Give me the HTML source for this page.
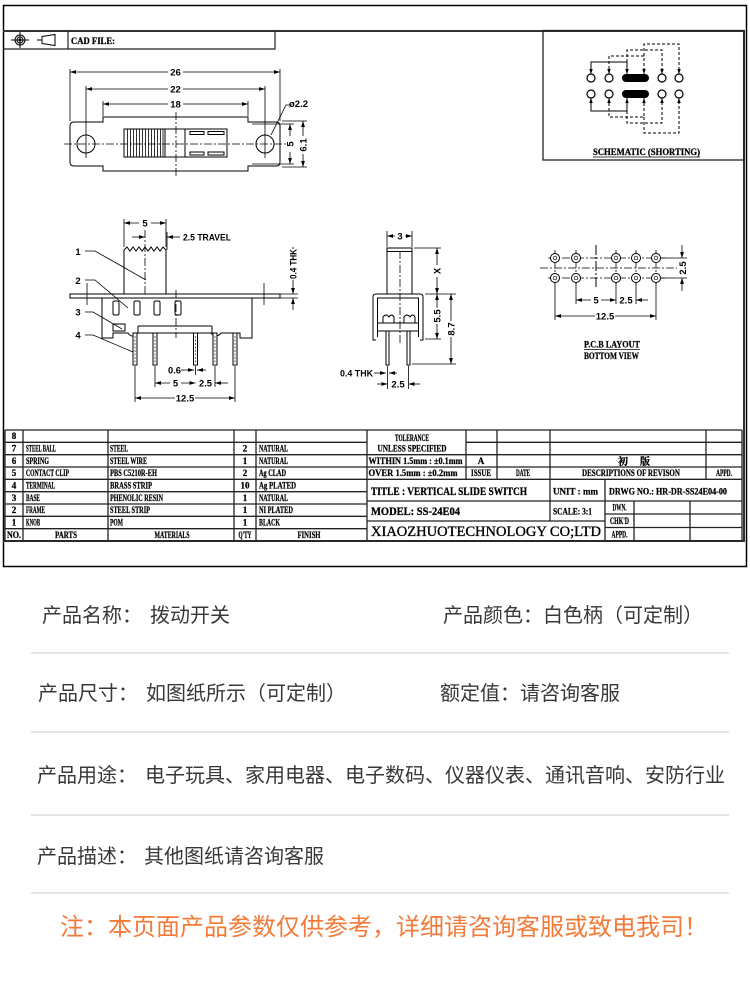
<!DOCTYPE html>
<html><head><meta charset="utf-8">
<style>
html,body{margin:0;padding:0;background:#fff;}
body{width:750px;height:988px;position:relative;overflow:hidden;font-family:"Liberation Sans","Noto Sans CJK SC",sans-serif;}
svg{position:absolute;left:0;top:0;}
.t{position:absolute;font-size:20px;line-height:20px;color:#383838;white-space:nowrap;font-family:"Liberation Sans","Noto Sans CJK SC",sans-serif;}
.hr{position:absolute;left:31px;width:698px;height:2px;background:#e6e6e6;}
.note{position:absolute;left:60px;top:916px;font-size:24px;line-height:24px;color:#f37b3a;white-space:nowrap;font-family:"Liberation Sans","Noto Sans CJK SC",sans-serif;}
</style></head><body>
<svg width="750" height="575" viewBox="0 0 750 575">
<defs>
<marker id="a" viewBox="0 0 10 10" refX="10" refY="5" markerWidth="6" markerHeight="6" markerUnits="userSpaceOnUse" orient="auto-start-reverse"><path d="M0,1.8 L10,5 L0,8.2z" fill="#000"/></marker>
<marker id="b" viewBox="0 0 10 10" refX="10" refY="5" markerWidth="5" markerHeight="5" markerUnits="userSpaceOnUse" orient="auto-start-reverse"><path d="M0,1.5 L10,5 L0,8.5z" fill="#000"/></marker>
</defs>
<style>
.l{fill:none;stroke:#000;stroke-width:1}
.d{fill:none;stroke:#000;stroke-width:0.8}
.cl{fill:none;stroke:#000;stroke-width:0.8;stroke-dasharray:8 2 2 2}
.ds{fill:none;stroke:#000;stroke-width:1;stroke-dasharray:3 2}
.g{fill:none;stroke:#222;stroke-width:1.3}
.s{font-family:"Liberation Serif",serif;font-weight:bold;font-size:9px;fill:#000;stroke:#000;stroke-width:0.25}
.n{font-family:"Liberation Sans",sans-serif;font-weight:bold;font-size:9.5px;fill:#000}
.w{fill:#fff;stroke:none}
</style>

<!-- frames -->
<rect x="3.5" y="5.5" width="743" height="561" fill="none" stroke="#000" stroke-width="1.5"/>
<path d="M3,31 H744 V541 H3" fill="none" stroke="#333" stroke-width="2"/>
<path d="M3,49 H275 V31 M68,31 V49" fill="none" stroke="#222" stroke-width="1.2"/>
<text x="71" y="44" class="s" textLength="44" lengthAdjust="spacingAndGlyphs">CAD FILE:</text>
<!-- icons -->
<g class="l">
<circle cx="20" cy="40" r="5"/><circle cx="20" cy="40" r="3"/>
<path d="M11,40 H29 M20,32 V48"/>
<path d="M37,40 H42 M42,36.5 L55,34.5 L55,45.5 L42,43.5 Z"/>
</g>
<circle cx="20" cy="40" r="1.4" fill="#000"/>

<!-- TOP VIEW -->
<g class="l">
<path d="M103,122 H74 Q70,122 70,126 V162 Q70,166 74,166 H103 V171 H248 V166 H276 Q280,166 280,162 V126 Q280,122 276,122 H248 V117 H103 Z"/>
<circle cx="86" cy="144" r="9"/><circle cx="265" cy="144" r="9"/>
<rect x="124" y="129" width="103" height="28"/>
<path d="M165,129V157M185,129V157"/>
<path d="M127.5,129V157M130.5,129V157M133.5,129V157M136.5,129V157M139.5,129V157M142.5,129V157M145.5,129V157M148.5,129V157M151.5,129V157M154.5,129V157M157.5,129V157M160.5,129V157M163,129V157" stroke-width="0.8"/>
<rect x="190" y="131.5" width="14" height="3"/><rect x="208" y="131.5" width="16" height="3"/>
<rect x="190" y="152" width="14" height="3"/><rect x="208" y="152" width="16" height="3"/>
</g>
<line x1="64" y1="144" x2="287" y2="144" class="cl"/>
<line x1="176" y1="112" x2="176" y2="176" class="cl"/>
<g class="d">
<path d="M70,69 V121 M280,69 V121 M86,86 V158 M265,86 V158 M103,101 V116 M248,101 V116"/>
<line x1="70" y1="72" x2="280" y2="72" marker-start="url(#a)" marker-end="url(#a)"/>
<line x1="86" y1="89" x2="265" y2="89" marker-start="url(#a)" marker-end="url(#a)"/>
<line x1="103" y1="104" x2="248" y2="104" marker-start="url(#a)" marker-end="url(#a)"/>
<path d="M271,135 L286,105 H290"/>
<path d="M282,121 H307 M282,167 H307 M252,124 H294 M252,164 H294"/>
<line x1="290" y1="136" x2="290" y2="124" marker-end="url(#a)"/>
<line x1="290" y1="152" x2="290" y2="164" marker-end="url(#a)"/>
<line x1="303" y1="136" x2="303" y2="121" marker-end="url(#a)"/>
<line x1="303" y1="154" x2="303" y2="167" marker-end="url(#a)"/>
</g>
<rect x="168" y="67" width="15" height="10" class="w"/><text x="175.5" y="75.5" class="n" text-anchor="middle">26</text>
<rect x="168" y="84" width="15" height="10" class="w"/><text x="175.5" y="92.5" class="n" text-anchor="middle">22</text>
<rect x="168" y="99" width="15" height="10" class="w"/><text x="175.5" y="107.5" class="n" text-anchor="middle">18</text>
<text x="289" y="107" class="n" font-size="9">ø2.2</text>
<text class="n" text-anchor="middle" transform="translate(293.5,144) rotate(-90)">5</text>
<text class="n" text-anchor="middle" transform="translate(306.5,145) rotate(-90)">6.1</text>

<!-- SCHEMATIC -->
<rect x="543" y="30.5" width="201" height="129.5" fill="none" stroke="#222" stroke-width="1.3"/>
<g class="l" stroke-width="1">
<path d="M627,74 V62 H591 V74" marker-start="url(#b)" marker-end="url(#b)"/>
<path d="M627,98 V111 H591 V98" marker-start="url(#b)" marker-end="url(#b)"/>
</g>
<g class="ds">
<path d="M609,74 V56 H644 V74" marker-start="url(#b)" marker-end="url(#b)"/>
<path d="M627,62 V50 H662 V74" marker-end="url(#b)"/>
<path d="M644,56 V44 H679 V74" marker-end="url(#b)"/>
<path d="M609,98 V117 H644 V98" marker-start="url(#b)" marker-end="url(#b)"/>
<path d="M627,111 V123 H662 V98" marker-end="url(#b)"/>
<path d="M644,117 V133 H679 V98" marker-end="url(#b)"/>
</g>
<g fill="#fff" stroke="#000" stroke-width="1.2">
<circle cx="591" cy="78" r="4"/><circle cx="609" cy="78" r="4"/><circle cx="662" cy="78" r="4"/><circle cx="679" cy="78" r="4"/>
<circle cx="591" cy="94" r="4"/><circle cx="609" cy="94" r="4"/><circle cx="662" cy="94" r="4"/><circle cx="679" cy="94" r="4"/>
</g>
<rect x="622" y="74" width="27" height="8" rx="4" fill="#000"/>
<rect x="622" y="90" width="27" height="8" rx="4" fill="#000"/>
<text x="593" y="155" class="s" textLength="107" lengthAdjust="spacingAndGlyphs">SCHEMATIC  (SHORTING)</text>
<line x1="593" y1="157" x2="700" y2="157" stroke="#000" stroke-width="0.8"/>

<!-- SIDE VIEW -->
<g class="l">
<path d="M124,294 V250 L127,247 L130,251 L133,247 L136,251 L139,247 L142,251 L145,247 L148,251 L151,247 L154,251 L157,247 L160,251 L163,247 L166,250 V294"/>
<rect x="70" y="294" width="210" height="4" fill="#fff"/>
<path d="M102,298 V338 H113 V333 H128 Q132,339 137,333 H211 Q216,339 221,333 H240 V338 H252 V298"/>
<path d="M138,326 H212 M138,326 V333 M212,326 V333"/>
<rect x="113" y="324" width="12" height="7"/>
<rect x="113" y="301" width="6" height="14" rx="1.5"/>
<rect x="134" y="301" width="6" height="14" rx="1.5"/>
<rect x="154" y="301" width="6" height="14" rx="1.5"/>
<rect x="175" y="301" width="6" height="14" rx="1.5"/>
<rect x="133" y="333" width="4" height="32" fill="#fff"/>
<rect x="153" y="333" width="4" height="32" fill="#fff"/>
<rect x="193.5" y="333" width="4" height="32" fill="#fff"/>
<rect x="213" y="333" width="4" height="32" fill="#fff"/>
<rect x="233" y="333" width="4" height="32" fill="#fff"/>
</g>
<g stroke="#000" stroke-width="0.6" stroke-dasharray="2 1.5">
<path d="M135,336V364 M155,336V364 M195.5,336V364 M215,336V364 M235,336V364"/>
</g>
<line x1="145" y1="230" x2="145" y2="294" class="cl"/>
<line x1="176" y1="290" x2="176" y2="338" class="cl"/>
<g class="d">
<path d="M124,219 V247 M166,219 V247 M167,232 V250 M87,283 V305 M264,283 V305"/>
<line x1="124" y1="223" x2="166" y2="223" marker-start="url(#a)" marker-end="url(#a)"/>
<line x1="132" y1="237" x2="145" y2="237" marker-end="url(#a)"/>
<line x1="180" y1="237" x2="167" y2="237" marker-end="url(#a)"/>
<path d="M85,251 H95 L146,280 M85,280 H95 L128,308 M85,312 H93 L122,329 M85,335 H93 L133,352"/>
<path d="M280,294 H298 M280,298 H298"/>
<line x1="293" y1="282" x2="293" y2="294" marker-end="url(#a)"/>
<line x1="293" y1="310" x2="293" y2="298" marker-end="url(#a)"/>
<line x1="293" y1="247" x2="293" y2="282"/>
<path d="M135,366 V402 M155,366 V387 M195.5,366 V375 M215,366 V387 M235,366 V402"/>
<line x1="181" y1="370" x2="194" y2="370" marker-end="url(#a)"/>
<line x1="206" y1="370" x2="197" y2="370" marker-end="url(#a)"/>
<line x1="155" y1="383" x2="195.5" y2="383" marker-start="url(#a)" marker-end="url(#a)"/>
<line x1="228" y1="383" x2="215" y2="383" marker-end="url(#a)"/>
<line x1="135" y1="398" x2="235" y2="398" marker-start="url(#a)" marker-end="url(#a)"/>
</g>
<rect x="139" y="218" width="12" height="10" class="w"/><text x="145" y="226.5" class="n" text-anchor="middle">5</text>
<text x="183" y="240.5" class="n" textLength="48" lengthAdjust="spacingAndGlyphs">2.5  TRAVEL</text>
<text x="78" y="255" class="n" font-size="10" text-anchor="middle">1</text>
<text x="78" y="284" class="n" font-size="10" text-anchor="middle">2</text>
<text x="78" y="315.5" class="n" font-size="10" text-anchor="middle">3</text>
<text x="78" y="338.5" class="n" font-size="10" text-anchor="middle">4</text>
<rect x="288" y="249" width="10" height="31" class="w"/>
<text class="n" font-size="9" text-anchor="middle" transform="translate(296.5,264) rotate(-90)" textLength="30" lengthAdjust="spacingAndGlyphs">0.4 THK</text>
<text x="168" y="373.5" class="n" textLength="13" lengthAdjust="spacingAndGlyphs">0.6</text>
<rect x="170" y="378" width="11" height="10" class="w"/><text x="175.5" y="386.5" class="n" text-anchor="middle">5</text>
<text x="199" y="386.5" class="n" textLength="13" lengthAdjust="spacingAndGlyphs">2.5</text>
<rect x="175" y="393" width="20" height="10" class="w"/><text x="185" y="401.5" class="n" text-anchor="middle">12.5</text>

<!-- END VIEW -->
<g class="l">
<rect x="387" y="248" width="25" height="46"/>
<path d="M387,251.5 H412"/>
<path d="M376,340 H373 V297 Q373,294 376,294 H420 Q423,294 423,297 V340 H420"/>
<path d="M377.5,337 V298 H418.5 V337"/>
<path d="M378,323 H418 M378,331 H418"/>
<path d="M383,323 V317 Q386,313 389,317 Q391.5,313 394,317 V323"/>
<path d="M404,323 V317 Q407,313 410,317 Q412.5,313 415,317 V323"/>
<rect x="386" y="331" width="3" height="34" fill="#fff"/>
<rect x="407" y="331" width="3" height="34" fill="#fff"/>
</g>
<line x1="400" y1="251" x2="400" y2="345" class="cl"/>
<g class="d">
<path d="M387,231 V247 M412,231 V247"/>
<line x1="387" y1="236" x2="412" y2="236" marker-start="url(#a)" marker-end="url(#a)"/>
<path d="M414,248 H441 M425,294 H456 M425,339 H441 M412,364 H456"/>
<line x1="437" y1="248" x2="437" y2="294" marker-start="url(#a)" marker-end="url(#a)"/>
<line x1="437" y1="294" x2="437" y2="339" marker-start="url(#a)" marker-end="url(#a)"/>
<line x1="451" y1="294" x2="451" y2="364" marker-start="url(#a)" marker-end="url(#a)"/>
<line x1="374" y1="373" x2="386" y2="373" marker-end="url(#a)"/>
<line x1="397" y1="373" x2="389" y2="373" marker-end="url(#a)"/>
<path d="M387.5,366 V389 M408.5,366 V389"/>
<line x1="377" y1="384" x2="387.5" y2="384" marker-end="url(#a)"/>
<line x1="420" y1="384" x2="408.5" y2="384" marker-end="url(#a)"/>
</g>
<rect x="395" y="231" width="10" height="10" class="w"/><text x="400" y="239.5" class="n" text-anchor="middle">3</text>
<rect x="432" y="265" width="10" height="12" class="w"/><text class="n" text-anchor="middle" transform="translate(440.5,271) rotate(-90)">X</text>
<rect x="432" y="308" width="10" height="16" class="w"/><text class="n" text-anchor="middle" transform="translate(440.5,316) rotate(-90)">5.5</text>
<rect x="446" y="321" width="10" height="16" class="w"/><text class="n" text-anchor="middle" transform="translate(454.5,329) rotate(-90)">8.7</text>
<text x="340" y="376.5" class="n" font-size="9" textLength="33" lengthAdjust="spacingAndGlyphs">0.4  THK</text>
<text x="398" y="387.5" class="n" text-anchor="middle">2.5</text>

<!-- PCB LAYOUT -->
<line x1="540" y1="268" x2="677" y2="268" class="cl"/>
<line x1="548" y1="258" x2="665" y2="258" class="cl"/>
<line x1="548" y1="278" x2="665" y2="278" class="cl"/>
<g stroke="#000" stroke-width="0.8" stroke-dasharray="6 2 2 2">
<path d="M555,250V286 M576,250V286 M616,250V286 M636,250V286 M656,250V286"/>
</g>
<line x1="596" y1="245" x2="596" y2="288" stroke="#000" stroke-width="1" stroke-dasharray="10 2 2 2"/>
<g fill="#fff" stroke="#000" stroke-width="1">
<circle cx="555" cy="258" r="4.5"/><circle cx="576" cy="258" r="4.5"/><circle cx="616" cy="258" r="4.5"/><circle cx="636" cy="258" r="4.5"/><circle cx="656" cy="258" r="4.5"/>
<circle cx="555" cy="278" r="4.5"/><circle cx="576" cy="278" r="4.5"/><circle cx="616" cy="278" r="4.5"/><circle cx="636" cy="278" r="4.5"/><circle cx="656" cy="278" r="4.5"/>
</g>
<g fill="none" stroke="#000" stroke-width="0.7">
<circle cx="555" cy="258" r="1.8"/><circle cx="576" cy="258" r="1.8"/><circle cx="616" cy="258" r="1.8"/><circle cx="636" cy="258" r="1.8"/><circle cx="656" cy="258" r="1.8"/>
<circle cx="555" cy="278" r="1.8"/><circle cx="576" cy="278" r="1.8"/><circle cx="616" cy="278" r="1.8"/><circle cx="636" cy="278" r="1.8"/><circle cx="656" cy="278" r="1.8"/>
</g>
<g class="d">
<path d="M661,258 H687 M661,278 H687"/>
<line x1="682" y1="245" x2="682" y2="258" marker-end="url(#a)"/>
<line x1="682" y1="291" x2="682" y2="278" marker-end="url(#a)"/>
<path d="M576,283 V304 M616,283 V304 M636,283 V304 M555,283 V320 M656,283 V320"/>
<line x1="576" y1="300" x2="616" y2="300" marker-start="url(#a)" marker-end="url(#a)"/>
<line x1="648" y1="300" x2="636" y2="300" marker-end="url(#a)"/>
<line x1="555" y1="316" x2="656" y2="316" marker-start="url(#a)" marker-end="url(#a)"/>
</g>
<text class="n" text-anchor="middle" transform="translate(686,268) rotate(-90)">2.5</text>
<rect x="591" y="295" width="10" height="10" class="w"/><text x="596" y="303.5" class="n" text-anchor="middle">5</text>
<text x="626" y="303.5" class="n" text-anchor="middle">2.5</text>
<rect x="595" y="311" width="20" height="10" class="w"/><text x="605" y="319.5" class="n" text-anchor="middle">12.5</text>
<text x="584" y="347.5" class="s" textLength="56" lengthAdjust="spacingAndGlyphs">P.C.B LAYOUT</text>
<line x1="584" y1="349.5" x2="640" y2="349.5" stroke="#000" stroke-width="0.8"/>
<text x="584" y="359" class="s" textLength="55" lengthAdjust="spacingAndGlyphs">BOTTOM VIEW</text>

<!-- TABLES -->
<g class="g">
<path d="M5,430 H742"/>
<path d="M5,442.3 H367 M5,454.7 H367 M5,467 H742 M5,479.3 H742 M5,491.7 H367 M5,504 H367 M5,516.3 H367 M5,528.7 H367 M5,541 H742"/>
<path d="M5,430 V541 M23,430 V541 M108,430 V541 M234,430 V541 M256,430 V541 M367,430 V541"/>
<path d="M466,442.3 H742 M367,454.7 H742"/>
<path d="M466,430 V479.3 M497,430 V479.3 M550,430 V479.3 M706,430 V479.3 M742,430 V541"/>
<path d="M367,501 H742 M367,521 H605 M605,514 H742 M605,527.5 H742"/>
<path d="M550,479.3 V521 M605,479.3 V541 M634,501 V541 M690,501 V541"/>
</g>
<g class="s">
<text x="14" y="439.2" text-anchor="middle">8</text>
<text x="14" y="451.5" text-anchor="middle">7</text>
<text x="14" y="463.8" text-anchor="middle">6</text>
<text x="14" y="476.2" text-anchor="middle">5</text>
<text x="14" y="488.5" text-anchor="middle">4</text>
<text x="14" y="500.8" text-anchor="middle">3</text>
<text x="14" y="513.2" text-anchor="middle">2</text>
<text x="14" y="525.5" text-anchor="middle">1</text>
<text x="14" y="537.8" text-anchor="middle" textLength="14" lengthAdjust="spacingAndGlyphs">NO.</text>

<text x="26" y="451.5" textLength="30" lengthAdjust="spacingAndGlyphs">STEEL BALL</text>
<text x="26" y="463.8" textLength="23" lengthAdjust="spacingAndGlyphs">SPRING</text>
<text x="26" y="476.2" textLength="43" lengthAdjust="spacingAndGlyphs">CONTACT CLIP</text>
<text x="26" y="488.5" textLength="29" lengthAdjust="spacingAndGlyphs">TERMINAL</text>
<text x="26" y="500.8" textLength="14" lengthAdjust="spacingAndGlyphs">BASE</text>
<text x="26" y="513.2" textLength="19" lengthAdjust="spacingAndGlyphs">FRAME</text>
<text x="26" y="525.5" textLength="14" lengthAdjust="spacingAndGlyphs">KNOB</text>
<text x="66" y="537.8" text-anchor="middle" textLength="22" lengthAdjust="spacingAndGlyphs">PARTS</text>

<text x="110" y="451.5" textLength="18" lengthAdjust="spacingAndGlyphs">STEEL</text>
<text x="110" y="463.8" textLength="37" lengthAdjust="spacingAndGlyphs">STEEL WIRE</text>
<text x="110" y="476.2" textLength="47" lengthAdjust="spacingAndGlyphs">PBS C5210R-EH</text>
<text x="110" y="488.5" textLength="42" lengthAdjust="spacingAndGlyphs">BRASS STRIP</text>
<text x="110" y="500.8" textLength="53" lengthAdjust="spacingAndGlyphs">PHENOLIC RESIN</text>
<text x="110" y="513.2" textLength="40" lengthAdjust="spacingAndGlyphs">STEEL STRIP</text>
<text x="110" y="525.5" textLength="13" lengthAdjust="spacingAndGlyphs">POM</text>
<text x="172" y="537.8" text-anchor="middle" textLength="35" lengthAdjust="spacingAndGlyphs">MATERIALS</text>

<text x="245" y="451.5" text-anchor="middle">2</text>
<text x="245" y="463.8" text-anchor="middle">1</text>
<text x="245" y="476.2" text-anchor="middle">2</text>
<text x="245" y="488.5" text-anchor="middle">10</text>
<text x="245" y="500.8" text-anchor="middle">1</text>
<text x="245" y="513.2" text-anchor="middle">1</text>
<text x="245" y="525.5" text-anchor="middle">1</text>
<text x="245" y="537.8" text-anchor="middle" textLength="13" lengthAdjust="spacingAndGlyphs">Q'TY</text>

<text x="259" y="451.5" textLength="29" lengthAdjust="spacingAndGlyphs">NATURAL</text>
<text x="259" y="463.8" textLength="29" lengthAdjust="spacingAndGlyphs">NATURAL</text>
<text x="259" y="476.2" textLength="27" lengthAdjust="spacingAndGlyphs">Ag CLAD</text>
<text x="259" y="488.5" textLength="37" lengthAdjust="spacingAndGlyphs">Ag PLATED</text>
<text x="259" y="500.8" textLength="29" lengthAdjust="spacingAndGlyphs">NATURAL</text>
<text x="259" y="513.2" textLength="34" lengthAdjust="spacingAndGlyphs">NI PLATED</text>
<text x="259" y="525.5" textLength="21" lengthAdjust="spacingAndGlyphs">BLACK</text>
<text x="309" y="537.8" text-anchor="middle" textLength="23" lengthAdjust="spacingAndGlyphs">FINISH</text>

<text x="412" y="441" text-anchor="middle" textLength="34" lengthAdjust="spacingAndGlyphs">TOLERANCE</text>
<text x="412" y="451.5" text-anchor="middle" textLength="69" lengthAdjust="spacingAndGlyphs">UNLESS  SPECIFIED</text>
<text x="368.5" y="463.8" textLength="94" lengthAdjust="spacingAndGlyphs">WITHIN 1.5mm : ±0.1mm</text>
<text x="368.5" y="476.2" textLength="89" lengthAdjust="spacingAndGlyphs">OVER 1.5mm : ±0.2mm</text>
<text x="481" y="463.8" text-anchor="middle">A</text>
<text x="481" y="476.2" text-anchor="middle" textLength="20" lengthAdjust="spacingAndGlyphs">ISSUE</text>
<text x="523" y="476.2" text-anchor="middle" textLength="14" lengthAdjust="spacingAndGlyphs">DATE</text>
<text x="631" y="476.2" text-anchor="middle" textLength="98" lengthAdjust="spacingAndGlyphs">DESCRIPTIONS OF REVISON</text>
<text x="724" y="476.2" text-anchor="middle" textLength="16" lengthAdjust="spacingAndGlyphs">APPD.</text>
<text x="553" y="494.5" textLength="45" lengthAdjust="spacingAndGlyphs">UNIT :  mm</text>
<text x="609" y="494.5" textLength="118" lengthAdjust="spacingAndGlyphs">DRWG NO.:  HR-DR-SS24E04-00</text>
<text x="553" y="514.5" textLength="39" lengthAdjust="spacingAndGlyphs">SCALE:  3:1</text>
<text x="619.5" y="510.5" text-anchor="middle" textLength="14" lengthAdjust="spacingAndGlyphs">DWN.</text>
<text x="619.5" y="523.8" text-anchor="middle" textLength="19" lengthAdjust="spacingAndGlyphs">CHK'D</text>
<text x="619.5" y="537.3" text-anchor="middle" textLength="16" lengthAdjust="spacingAndGlyphs">APPD.</text>
</g>
<text x="640" y="465" text-anchor="middle" font-family="'Liberation Serif','Noto Serif CJK SC',serif" font-weight="bold" font-size="10" letter-spacing="12" stroke="#000" stroke-width="0.3">初版</text>
<text x="371" y="495" font-family="'Liberation Serif',serif" font-weight="bold" font-size="11.5" stroke="#000" stroke-width="0.3" textLength="156" lengthAdjust="spacingAndGlyphs">TITLE :  VERTICAL SLIDE SWITCH</text>
<text x="371" y="515" font-family="'Liberation Serif',serif" font-weight="bold" font-size="11.5" stroke="#000" stroke-width="0.3" textLength="89" lengthAdjust="spacingAndGlyphs">MODEL:  SS-24E04</text>
<text x="371" y="536" font-family="'Liberation Serif',serif" font-size="14.5" stroke="#000" stroke-width="0.35" textLength="230" lengthAdjust="spacingAndGlyphs">XIAOZHUOTECHNOLOGY  CO;LTD</text>
</svg>

<div class="t" style="left:42px;top:606px;">产品名称：</div>
<div class="t" style="left:150px;top:606px;">拨动开关</div>
<div class="t" style="left:443px;top:606px;">产品颜色：白色柄（可定制）</div>
<div class="hr" style="top:652px;"></div>
<div class="t" style="left:38px;top:684px;">产品尺寸：</div>
<div class="t" style="left:146px;top:684px;">如图纸所示（可定制）</div>
<div class="t" style="left:440px;top:684px;">额定值：请咨询客服</div>
<div class="hr" style="top:731px;"></div>
<div class="t" style="left:37px;top:766px;">产品用途：</div>
<div class="t" style="left:145px;top:766px;">电子玩具、家用电器、电子数码、仪器仪表、通讯音响、安防行业</div>
<div class="hr" style="top:814px;"></div>
<div class="t" style="left:37px;top:847px;">产品描述：</div>
<div class="t" style="left:144px;top:847px;">其他图纸请咨询客服</div>
<div class="hr" style="top:892px;"></div>
<div class="note">注：本页面产品参数仅供参考，详细请咨询客服或致电我司！</div>
</body></html>
